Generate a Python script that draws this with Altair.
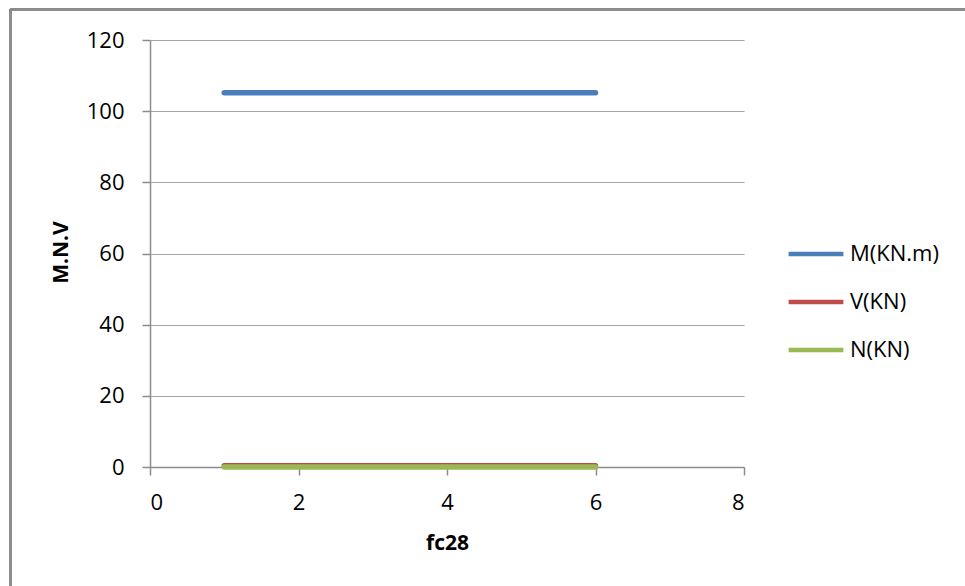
import altair as alt
import pandas as pd

# Internal forces against fc28
fc28 = [1, 2, 3, 4, 5, 6]
moment_m = [105.2, 105.2, 105.2, 105.2, 105.2, 105.2]
shear_v = [0.35, 0.35, 0.35, 0.35, 0.35, 0.35]
normal_n = [0.02, 0.02, 0.02, 0.02, 0.02, 0.02]

series_names = ["M(KN.m)", "V(KN)", "N(KN)"]
series_colors = ["#4a7ebb", "#be4b48", "#98b954"]
x_ticks = [0, 2, 4, 6, 8]
y_ticks = [0, 20, 40, 60, 80, 100, 120]

rows = []
for name, values in zip(series_names, [moment_m, shear_v, normal_n]):
    for xv, yv in zip(fc28, values):
        rows.append({"fc28": xv, "value": yv, "series": name})
df = pd.DataFrame(rows)

FONT = "Open Sans"
W, H = 594, 427

lines = alt.Chart(df).mark_line(strokeWidth=5.5, strokeCap="round", clip=False).encode(
    x=alt.X(
        "fc28:Q",
        scale=alt.Scale(domain=[0, 8], nice=False),
        axis=alt.Axis(
            values=x_ticks, grid=False, title="fc28",
            titleX=W / 2, titleY=76, titleBaseline="middle", titleAlign="center",
            labelPadding=17,
        ),
    ),
    y=alt.Y(
        "value:Q",
        scale=alt.Scale(domain=[0, 120], nice=False),
        axis=alt.Axis(
            values=y_ticks, grid=True, title="M.N.V",
            titleX=-89, titleY=212, titleAngle=270, titleBaseline="middle", titleAlign="center",
            labelPadding=18,
        ),
    ),
    color=alt.Color(
        "series:N",
        scale=alt.Scale(domain=series_names, range=series_colors),
        sort=series_names,
        legend=alt.Legend(
            title=None, orient="none", legendX=636, legendY=184,
            symbolType="stroke", symbolSize=3000, symbolStrokeWidth=4.5,
            labelFontSize=22, labelFont=FONT, labelColor="#000000",
            labelOffset=4, rowPadding=7, padding=0,
        ),
    ),
    order=alt.Order("series_order:Q"),
).transform_calculate(
    series_order="indexof(['M(KN.m)','V(KN)','N(KN)'], datum.series)"
)

# outer chart frame (left and top edges fall inside the view)
frame_top = alt.Chart(df).mark_rule(color="#8c8c8c", strokeWidth=1.5, clip=False).encode(
    x=alt.value(-140), x2=alt.value(900), y=alt.value(-30.5)
)
frame_left = alt.Chart(df).mark_rule(color="#8c8c8c", strokeWidth=1.5, clip=False).encode(
    x=alt.value(-139.5), y=alt.value(-31), y2=alt.value(600)
)

chart = alt.layer(frame_top, frame_left, lines).properties(
    width=W, height=H,
    autosize=alt.AutoSizeParams(type="none"),
    padding={"left": 150, "top": 40, "right": 965 - 150 - W, "bottom": 586 - 40 - H},
    background="#ffffff",
).configure_view(
    stroke=None
).configure_axis(
    labelFont=FONT, labelFontSize=22, labelColor="#000000",
    titleFont=FONT, titleFontSize=21, titleFontWeight="bold", titleColor="#000000",
    domainColor="#8c8c8c", domainWidth=1.5,
    tickColor="#8c8c8c", tickWidth=1.5, tickSize=8,
    gridColor="#a6a6a6", gridWidth=1,
)

chart.save("out.html", embed_options={"renderer": "svg", "actions": False})
